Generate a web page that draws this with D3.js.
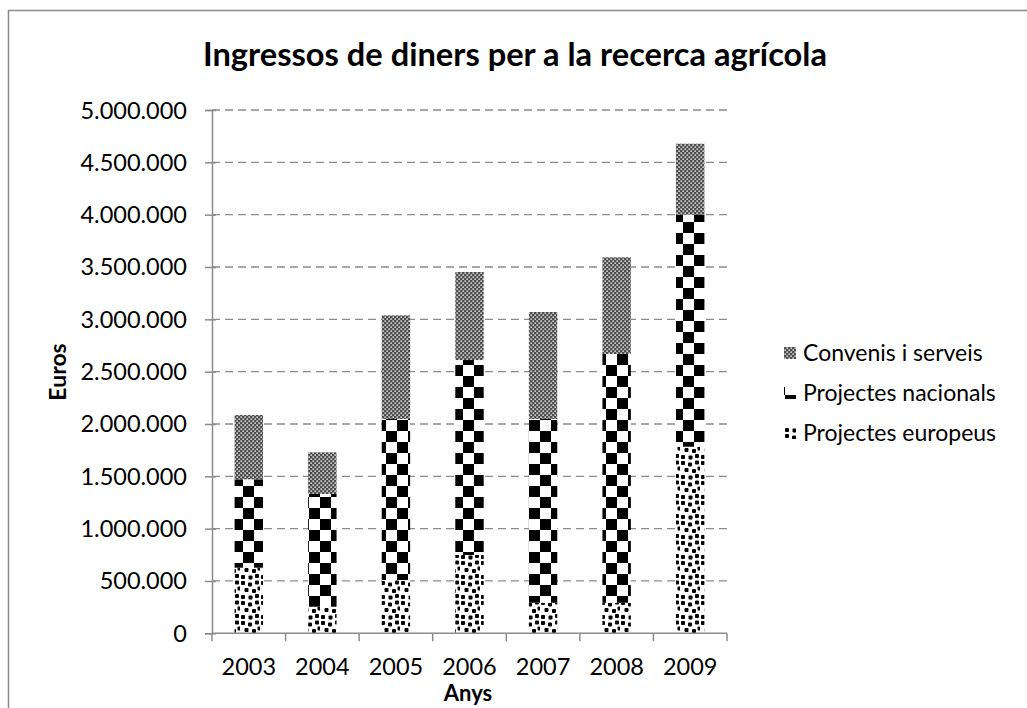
<!DOCTYPE html>
<html><head><meta charset="utf-8">
<script src="https://cdn.jsdelivr.net/npm/d3@7"></script>
<style>
html,body{margin:0;padding:0;background:#fff;}
svg{display:block;font-family:Lato, "Open Sans", sans-serif;}
</style></head>
<body>
<svg id="chart" width="1027" height="708"></svg>
<script>
const years = ["2003","2004","2005","2006","2007","2008","2009"];
const seriesNames = ["Projectes europeus","Projectes nacionals","Convenis i serveis"];
const europeus  = [627000, 254000, 509000, 748000, 292000, 292000, 1783000];
const nacionals = [844000, 1077000, 1539000, 1863000, 1756000, 2377000, 2217000];
const convenis  = [615000, 398000, 990000, 841000, 1022000, 924000, 678000];
const yTicks = [0,500000,1000000,1500000,2000000,2500000,3000000,3500000,4000000,4500000,5000000];
const titleText = "Ingressos de diners per a la recerca agrícola";
const yTitle = "Euros";
const xTitle = "Anys";

const rows = years.map((y,i)=>({year:y, "Projectes europeus":europeus[i], "Projectes nacionals":nacionals[i], "Convenis i serveis":convenis[i]}));
const svg = d3.select("#chart");
const m = {left:212, right:727, top:110, bottom:633.3};

// patterns
const defs = svg.append("defs");
const pE = defs.append("pattern").attr("id","pat-eu").attr("patternUnits","userSpaceOnUse").attr("width",20).attr("height",20);
pE.append("rect").attr("width",20).attr("height",20).attr("fill","#fff");
[[1,1],[8,2.5],[15,0.5],[4.5,8],[12,9],[17.5,6.5],[1,15],[8.5,15.5],[15,14]].forEach(d=>{
  pE.append("rect").attr("x",d[0]).attr("y",d[1]).attr("width",4).attr("height",4).attr("rx",1).attr("fill","#000");
});
const pN = defs.append("pattern").attr("id","pat-nac").attr("patternUnits","userSpaceOnUse").attr("width",22).attr("height",22).attr("x",1).attr("y",2);
pN.append("rect").attr("width",22).attr("height",22).attr("fill","#fff");
pN.append("rect").attr("width",11).attr("height",11).attr("fill","#000");
pN.append("rect").attr("x",11).attr("y",11).attr("width",11).attr("height",11).attr("fill","#000");
const pC = defs.append("pattern").attr("id","pat-conv").attr("patternUnits","userSpaceOnUse").attr("width",4).attr("height",4);
pC.append("rect").attr("width",4).attr("height",4).attr("fill","#4d4d4d");
pC.append("rect").attr("x",0.4).attr("y",0.4).attr("width",1.5).attr("height",1.5).attr("fill","#e8e8e8");
pC.append("rect").attr("x",2.4).attr("y",2.4).attr("width",1.5).attr("height",1.5).attr("fill","#e8e8e8");
const fills = {"Projectes europeus":"url(#pat-eu)","Projectes nacionals":"url(#pat-nac)","Convenis i serveis":"url(#pat-conv)"};

// outer border
svg.append("rect").attr("x",8.5).attr("y",10.5).attr("width",1030).attr("height",720)
  .attr("fill","none").attr("stroke","#8c8c8c").attr("stroke-width",1.5);

const x = d3.scaleBand().domain(years).range([m.left,m.right]).paddingInner(0.614).paddingOuter(0.307);
const y = d3.scaleLinear().domain([0,5000000]).range([m.bottom,m.top]);
const fmt = v => d3.format(",")(v).replace(/,/g,".");

// gridlines
svg.append("g").selectAll("line").data(yTicks.filter(t=>t>0)).join("line")
  .attr("x1",m.left).attr("x2",m.right).attr("y1",d=>y(d)).attr("y2",d=>y(d))
  .attr("stroke","#8c8c8c").attr("stroke-width",1.3).attr("stroke-dasharray","8,5");

// bars
const stack = d3.stack().keys(seriesNames)(rows);
svg.append("g").selectAll("g").data(stack).join("g")
  .attr("fill",d=>fills[d.key])
  .selectAll("rect").data(d=>d).join("rect")
  .attr("x",d=>x(d.data.year)).attr("width",x.bandwidth())
  .attr("y",d=>y(d[1])).attr("height",d=>y(d[0])-y(d[1]));

// y axis
const yAxis = d3.axisLeft(y).tickValues(yTicks).tickFormat(fmt).tickSize(7).tickPadding(18);
const gy = svg.append("g").attr("transform",`translate(${m.left},0)`).call(yAxis);
gy.select(".domain").attr("stroke","#8c8c8c").attr("stroke-width",1.5);
gy.selectAll(".tick line").attr("stroke","#8c8c8c").attr("stroke-width",1.5).attr("x2",-7).attr("x1",4);
gy.selectAll(".tick text").attr("font-size",23.5).attr("fill","#000").attr("font-family","Lato").attr("dy","0.34em");

// x axis
const xb = d3.scaleLinear().domain([0,years.length]).range([m.left,m.right]);
const gx = svg.append("g").attr("transform",`translate(0,${m.bottom})`);
gx.append("line").attr("x1",m.left).attr("x2",m.right).attr("stroke","#8c8c8c").attr("stroke-width",1.5);
gx.selectAll("line.t").data(d3.range(years.length+1)).join("line").attr("class","t")
  .attr("x1",d=>xb(d)).attr("x2",d=>xb(d)).attr("y1",0).attr("y2",8)
  .attr("stroke","#8c8c8c").attr("stroke-width",1.5);
gx.selectAll("text").data(years).join("text")
  .attr("x",d=>x(d)+x.bandwidth()/2).attr("y",42).attr("text-anchor","middle")
  .attr("font-size",23.5).text(d=>d);

// titles
svg.append("text").attr("x",515).attr("y",66).attr("text-anchor","middle")
  .attr("font-weight","bold").attr("font-size",31.5).attr("textLength",624).attr("lengthAdjust","spacingAndGlyphs").text(titleText);
svg.append("text").attr("transform","translate(66,372) rotate(-90)").attr("text-anchor","middle")
  .attr("font-weight","bold").attr("font-size",23).text(yTitle);
svg.append("text").attr("x",468).attr("y",701).attr("text-anchor","middle")
  .attr("font-weight","bold").attr("font-size",22).text(xTitle);

// legend
const legItems = ["Convenis i serveis","Projectes nacionals","Projectes europeus"];
const lg = svg.append("g").selectAll("g").data(legItems).join("g")
  .attr("transform",(d,i)=>`translate(784,${353+i*40})`);
lg.append("rect").attr("x",0).attr("y",-6).attr("width",12).attr("height",12)
  .attr("fill",d=>fills[d]);
lg.append("text").attr("x",19).attr("y",0).attr("dy","0.36em").attr("font-size",23).text(d=>d);
</script>
</body></html>
